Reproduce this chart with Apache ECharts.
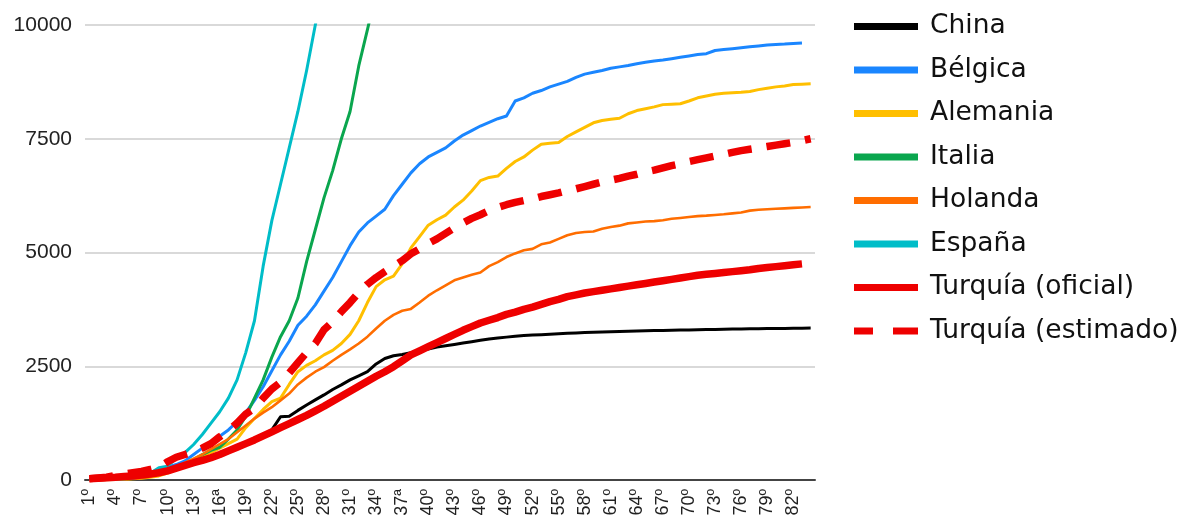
<!DOCTYPE html>
<html>
<head>
<meta charset="utf-8">
<script src="https://cdn.jsdelivr.net/npm/echarts@6/dist/echarts.min.js"></script>
<style>
  html, body { margin: 0; padding: 0; background: #ffffff; }
  #chart { width: 1194px; height: 523px; }
</style>
</head>
<body>
<div id="chart"></div>
<script>
const days = ['1º','2º','3º','4º','5º','6º','7º','8º','9º','10º','11º','12º','13º','14º','15º','16ª','17º','18º','19º','20º',
  '21º','22º','23º','24º','25º','26º','27º','28º','29º','30º','31º','32º','33º','34º','35º','36º','37ª','38º','39º','40º',
  '41º','42º','43º','44º','45º','46º','47º','48º','49º','50º','51º','52º','53º','54º','55º','56º','57º','58º','59º','60º',
  '61º','62º','63º','64º','65º','66º','67º','68º','69º','70º','71º','72º','73º','74º','75º','76º','77º','78º','79º','80º',
  '81º','82º','83º','84º'];

const yTicks = [0, 2500, 5000, 7500, 10000];

const china = [17,25,40,55,75,100,125,160,195,230,280,340,400,450,500,550,630,720,810,900,
  1000,1100,1390,1400,1530,1650,1760,1870,1990,2090,2200,2290,2380,2550,2670,2730,2760,2800,2840,2880,
  2920,2950,2980,3010,3040,3070,3100,3120,3140,3160,3175,3185,3195,3205,3215,3225,3232,3240,3246,3252,
  3258,3263,3268,3273,3278,3283,3288,3292,3296,3299,3302,3305,3310,3314,3317,3320,3322,3325,3327,3330,
  3332,3334,3336,3338];

const belgica = [10,15,20,30,40,55,80,130,220,280,340,420,560,700,820,960,1100,1280,1480,1750,
  2050,2400,2750,3050,3400,3600,3850,4150,4450,4800,5150,5450,5650,5800,5950,6250,6500,6750,6950,7100,
  7200,7300,7450,7580,7680,7780,7860,7940,8000,8330,8400,8500,8560,8640,8700,8760,8850,8920,8960,9000,
  9050,9080,9110,9150,9180,9210,9230,9260,9290,9320,9350,9370,9440,9460,9480,9500,9520,9540,9560,9570,
  9580,9595,9605];

const alemania = [0,2,5,10,15,25,40,60,90,150,230,330,430,520,600,700,800,900,1150,1350,
  1550,1720,1800,2100,2380,2520,2620,2750,2850,3000,3200,3500,3900,4250,4400,4480,4750,5100,5350,5600,
  5720,5820,6000,6150,6350,6580,6650,6680,6850,7000,7100,7250,7380,7400,7420,7550,7650,7750,7850,7900,
  7930,7950,8050,8120,8160,8200,8250,8260,8270,8330,8400,8440,8480,8500,8510,8520,8540,8580,8610,8640,
  8660,8690,8700,8710];

const italia = [5,10,15,20,30,50,80,110,150,200,250,340,450,560,650,720,900,1100,1400,1800,
  2200,2700,3150,3500,4000,4800,5500,6200,6800,7500,8100,9100,9900,10700];

const holanda = [5,8,10,15,20,30,45,70,150,210,290,380,470,560,680,790,900,1050,1200,1350,
  1480,1600,1750,1900,2100,2250,2380,2480,2620,2750,2870,3000,3150,3330,3500,3630,3720,3760,3900,4050,
  4170,4280,4390,4450,4510,4560,4700,4790,4900,4980,5050,5080,5180,5220,5300,5380,5430,5450,5460,5520,
  5560,5590,5640,5660,5680,5690,5710,5740,5760,5780,5800,5810,5825,5840,5860,5880,5920,5940,5950,5960,
  5970,5980,5990,6000];

const espana = [5,10,15,20,30,45,70,150,270,300,480,600,780,1000,1250,1500,1800,2200,2800,3500,
  4700,5700,6500,7300,8100,9000,10000,10900];

const turquiaOficial = [30,40,50,60,75,90,110,130,160,200,260,320,380,430,490,560,640,720,800,880,
  970,1060,1150,1240,1330,1420,1520,1620,1730,1840,1950,2060,2170,2280,2380,2490,2620,2750,2840,2930,
  3020,3110,3200,3290,3370,3450,3510,3570,3640,3690,3750,3800,3860,3920,3970,4030,4070,4110,4140,4170,
  4200,4230,4260,4290,4320,4350,4380,4410,4440,4470,4500,4520,4540,4560,4580,4600,4620,4650,4670,4690,
  4710,4730,4750];

const turquiaEstimado = [30,45,60,100,130,160,190,230,280,400,500,560,620,700,800,950,1080,1250,1450,1580,
  1800,2000,2150,2350,2580,2800,3000,3300,3480,3700,3900,4120,4300,4450,4580,4700,4820,4970,5080,5200,
  5300,5420,5540,5650,5750,5830,5920,5990,6050,6100,6140,6180,6230,6270,6310,6360,6400,6450,6500,6550,
  6590,6630,6680,6720,6770,6810,6860,6910,6950,7000,7040,7080,7120,7160,7200,7240,7270,7300,7330,7360,
  7390,7420,7460,7500];

const seriesDefs = [
  { name: 'China', data: china, color: '#000000', width: 3 },
  { name: 'Bélgica', data: belgica, color: '#1a86ff', width: 3 },
  { name: 'Alemania', data: alemania, color: '#ffbf00', width: 3 },
  { name: 'Italia', data: italia, color: '#0aa64e', width: 3 },
  { name: 'Holanda', data: holanda, color: '#ff6d00', width: 2.6 },
  { name: 'España', data: espana, color: '#00bdc8', width: 3 },
  { name: 'Turquía (oficial)', data: turquiaOficial, color: '#ee0000', width: 7.5 },
  { name: 'Turquía (estimado)', data: turquiaEstimado, color: '#ee0000', width: 7.5, dash: [24, 15] }
];

const chart = echarts.init(document.getElementById('chart'), null, { renderer: 'canvas' });

chart.setOption({
  animation: false,
  backgroundColor: '#ffffff',
  grid: { left: 85, right: 379, top: 25, bottom: 43, containLabel: false },
  legend: {
    orient: 'vertical',
    left: 854,
    top: 13,
    padding: 0,
    itemWidth: 64,
    itemHeight: 7,
    itemGap: 16.5,
    itemStyle: { borderWidth: 0 },
    textStyle: {
      fontFamily: 'DejaVu Sans',
      fontSize: 26.5,
      lineHeight: 26,
      color: '#111111',
      padding: [0, 0, 0, 7]
    },
    data: seriesDefs.map(s => ({
      name: s.name,
      icon: s.dash ? 'path://M0 0H19V7H0Z M39 0H64V7H39Z' : 'rect'
    }))
  },
  xAxis: {
    type: 'category',
    data: days,
    boundaryGap: true,
    axisLine: { show: true, lineStyle: { color: '#444444', width: 2 } },
    axisTick: { show: false },
    splitLine: { show: false },
    axisLabel: {
      interval: 2,
      rotate: 90,
      margin: 9,
      fontFamily: 'Liberation Sans',
      fontSize: 18,
      color: '#222222'
    }
  },
  yAxis: {
    type: 'value',
    min: yTicks[0],
    max: yTicks[yTicks.length - 1],
    interval: yTicks[1] - yTicks[0],
    axisLine: { show: false },
    axisTick: { show: false },
    splitLine: { show: true, lineStyle: { color: '#cccccc', width: 1.5 } },
    axisLabel: {
      margin: 13,
      fontFamily: 'Liberation Sans',
      fontSize: 21,
      color: '#222222',
      formatter: v => String(v)
    }
  },
  series: seriesDefs.map((s, i) => ({
    name: s.name,
    type: 'line',
    data: s.data,
    symbol: 'none',
    showSymbol: false,
    clip: true,
    z: 2 + i,
    color: s.color,
    itemStyle: { color: s.color },
    lineStyle: {
      color: s.color,
      width: s.width,
      type: s.dash ? s.dash : 'solid',
      cap: 'butt',
      join: 'round'
    },
    emphasis: { disabled: true }
  }))
});
</script>
</body>
</html>
